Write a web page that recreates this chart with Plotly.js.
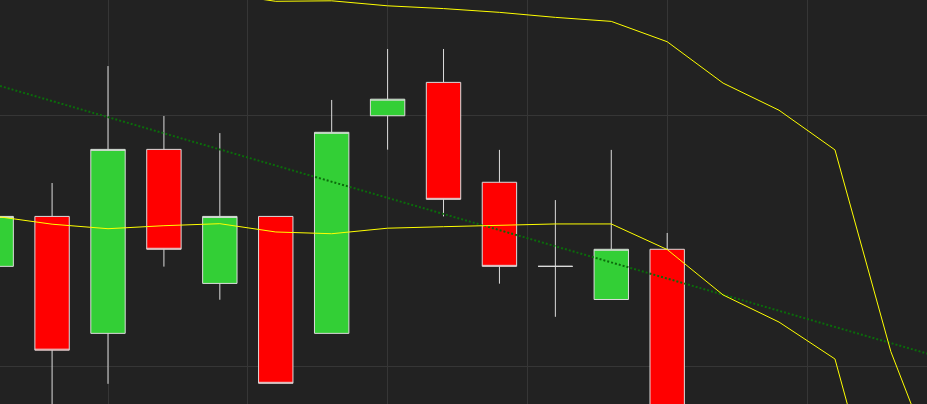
<!DOCTYPE html>
<html>
<head>
<meta charset="utf-8">
<script src="https://cdn.plot.ly/plotly-3.0.1.min.js"></script>
<style>html,body{margin:0;padding:0;background:#222222;}#chart{width:927px;height:404px;}</style>
</head>
<body>
<div id="chart"></div>
<script>
// Candle positions (bar index)
const candleX = [3, 4, 5, 6, 7, 8, 9, 10, 11, 12, 13, 14, 15];
const openVals  = [103.97, 105.96, 101.30, 108.63, 103.29, 105.96, 101.30, 109.97, 111.30, 107.32, 103.97, 102.65, 104.65];
const highVals  = [106.60, 107.29, 111.95, 109.96, 109.28, 105.96, 110.60, 112.63, 112.63, 108.61, 106.61, 108.61, 105.30];
const lowVals   = [103.30, 97.80, 99.29, 103.96, 102.64, 99.31, 101.30, 108.62, 105.96, 103.28, 101.96, 102.65, 94.00];
const closeVals = [105.96, 100.63, 108.63, 104.65, 105.96, 99.31, 109.31, 110.63, 106.64, 103.97, 103.97, 104.65, 95.00];

// Upper yellow line
const upperX = [7, 8, 9, 10, 11, 12, 13, 14, 15, 16, 17, 18, 19, 20];
const upperY = [114.85, 114.53, 114.55, 114.35, 114.24, 114.09, 113.89, 113.73, 112.92, 111.27, 110.19, 108.61, 100.57, 94.82];

// Lower yellow line
const lowerX = [3, 4, 5, 6, 7, 8, 9, 10, 11, 12, 13, 14, 15, 16, 17, 18, 19];
const lowerY = [105.96, 105.65, 105.47, 105.59, 105.67, 105.34, 105.27, 105.49, 105.55, 105.61, 105.66, 105.66, 104.64, 102.83, 101.75, 100.28, 92.15];

// Green dotted trend line
const trendX = [3, 20];
const trendY = [111.2, 100.27];

const traces = [
  {
    type: 'candlestick',
    x: candleX, open: openVals, high: highVals, low: lowVals, close: closeVals,
    increasing: {fillcolor: '#33cf36', line: {color: '#dcdcdc', width: 1}},
    decreasing: {fillcolor: '#ff0000', line: {color: '#dcdcdc', width: 1}},
    whiskerwidth: 0,
    hoverinfo: 'none',
    showlegend: false
  },
  {
    type: 'scatter', mode: 'lines', x: trendX, y: trendY,
    line: {color: '#0b6b0b', width: 2, dash: '2px,2px'},
    hoverinfo: 'none', showlegend: false
  },
  {
    type: 'scatter', mode: 'lines', x: upperX, y: upperY,
    line: {color: '#ffff00', width: 1},
    hoverinfo: 'none', showlegend: false
  },
  {
    type: 'scatter', mode: 'lines', x: lowerX, y: lowerY,
    line: {color: '#ffff00', width: 1},
    hoverinfo: 'none', showlegend: false
  }
];

const layout = {
  width: 927, height: 404,
  margin: {l: 0, r: 0, t: 0, b: 0, pad: 0},
  paper_bgcolor: '#222222',
  plot_bgcolor: '#222222',
  showlegend: false,
  boxgap: 0.385,
  boxgroupgap: 0,
  xaxis: {
    type: 'linear',
    range: [3.0687, 19.646],
    tick0: 0, dtick: 2.5,
    showgrid: true, gridcolor: '#363636', gridwidth: 1,
    zeroline: false, showticklabels: false, ticks: '',
    showline: false,
    rangeslider: {visible: false}
  },
  yaxis: {
    range: [98.486, 114.582],
    tick0: 0, dtick: 10,
    showgrid: true, gridcolor: '#363636', gridwidth: 1,
    zeroline: false, showticklabels: false, ticks: '',
    showline: false
  }
};

Plotly.newPlot('chart', traces, layout, {displayModeBar: false, staticPlot: true});
</script>
</body>
</html>
